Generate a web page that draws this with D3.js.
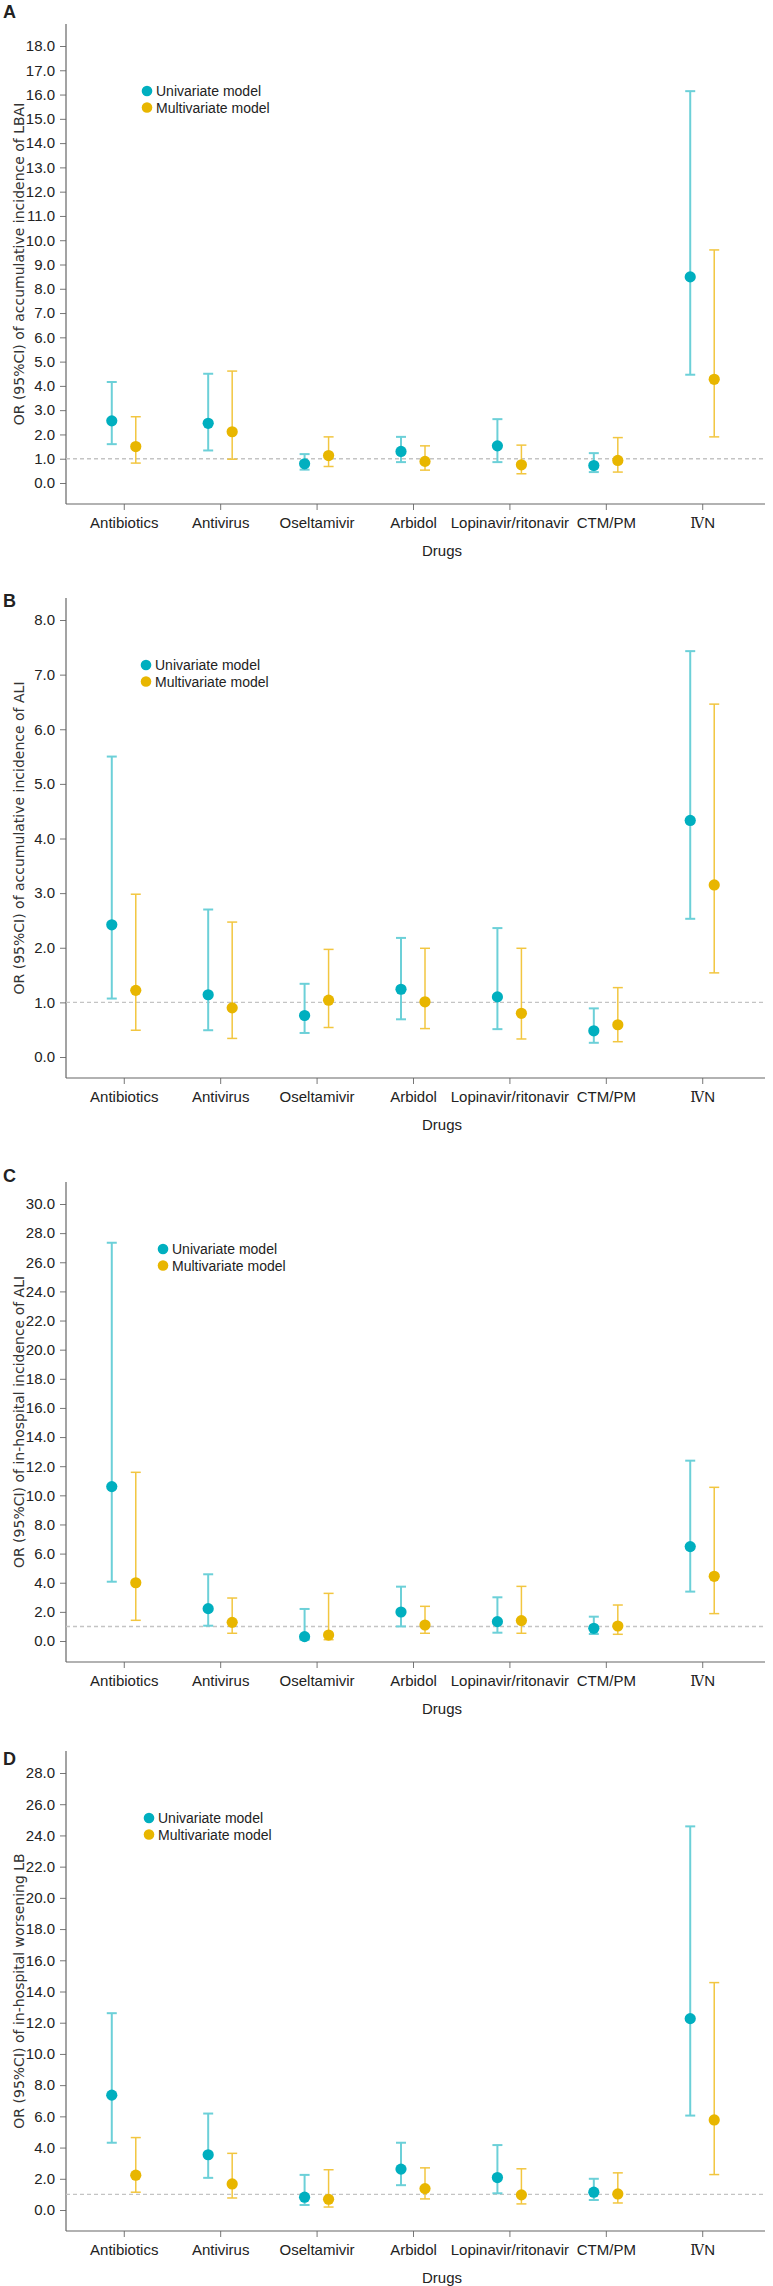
<!DOCTYPE html>
<html lang="en">
<head>
<meta charset="utf-8">
<script src="https://cdnjs.cloudflare.com/ajax/libs/d3/7.8.5/d3.min.js"></script>
<style>
  body { margin: 0; background: #fff; }
  svg text { font-family: "Liberation Sans", Arial, sans-serif; }
</style>
</head>
<body>
<script>

// categories
var drugs = ["Antibiotics", "Antivirus", "Oseltamivir", "Arbidol",
             "Lopinavir/ritonavir", "CTM/PM", "\u2163N"];

var panelLetters = ["A", "B", "C", "D"];
var yTitles = [
    "OR (95%CI) of accumulative incidence of LBAI",
    "OR (95%CI) of accumulative incidence of ALI",
    "OR (95%CI) of in-hospital incidence of ALI",
    "OR (95%CI) of in-hospital worsening LB"
];
var yMax  = [18, 8, 30, 28];
var yStep = [1, 1, 2, 2];

// [OR, lower 95%CI, upper 95%CI] per drug
var uniA   = [[2.56,1.60,4.16],[2.46,1.34,4.50],[0.79,0.55,1.19],[1.30,0.86,1.90],[1.53,0.86,2.63],[0.72,0.45,1.23],[8.49,4.46,16.14]];
var multiA = [[1.50,0.82,2.73],[2.11,0.98,4.61],[1.13,0.68,1.90],[0.89,0.53,1.53],[0.75,0.38,1.56],[0.93,0.45,1.87],[4.27,1.90,9.60]];

var uniB   = [[2.42,1.07,5.50],[1.14,0.49,2.70],[0.76,0.44,1.34],[1.24,0.69,2.18],[1.10,0.51,2.36],[0.48,0.26,0.89],[4.33,2.53,7.43]];
var multiB = [[1.22,0.49,2.98],[0.90,0.34,2.47],[1.04,0.54,1.97],[1.01,0.52,1.99],[0.80,0.33,1.99],[0.59,0.28,1.27],[3.15,1.54,6.46]];

var uniC   = [[10.6,4.07,27.34],[2.22,1.05,4.58],[0.30,0.09,2.20],[1.99,1.00,3.73],[1.33,0.57,3.00],[0.87,0.48,1.67],[6.48,3.39,12.38]];
var multiC = [[4.00,1.42,11.58],[1.28,0.53,2.95],[0.41,0.09,3.27],[1.10,0.53,2.38],[1.40,0.53,3.75],[1.03,0.46,2.47],[4.44,1.88,10.55]];

var uniD   = [[7.36,4.31,12.61],[3.54,2.06,6.18],[0.82,0.32,2.25],[2.62,1.59,4.31],[2.08,1.07,4.16],[1.14,0.64,2.00],[12.26,6.05,24.58]];
var multiD = [[2.23,1.14,4.64],[1.67,0.77,3.63],[0.69,0.19,2.58],[1.37,0.71,2.70],[0.97,0.39,2.64],[1.03,0.45,2.38],[5.77,2.27,14.57]];

var uniData   = [uniA, uniB, uniC, uniD];
var multiData = [multiA, multiB, multiC, multiD];

// layout
var width = 773, height = 2286;
var axisX = 66, rightX = 765;
var panelTop = [46, 620, 1204, 1773];   // y of highest tick per panel
var plotH = 437;
var letterY = [18, 607, 1182, 1765];
var legendX = [147, 146, 163, 149];

var uniDot = "#00afbf", uniBar = "#6cd0d8";
var multiDot = "#e8b600", multiBar = "#f2c640";

var svg = d3.select("body").append("svg")
    .attr("width", width)
    .attr("height", height);

var x = d3.scalePoint()
    .domain(drugs)
    .range([64, 762])
    .padding(0.62);

panelLetters.forEach(function(letter, p) {

    var top = panelTop[p];
    var y = d3.scaleLinear()
        .domain([0, yMax[p]])
        .range([top + plotH, top]);
    var yBottom = y(0) + 21;
    var g = svg.append("g");

    /*
    буква панели
     */
    g.append("text")
        .attr("x", 3)
        .attr("y", letterY[p])
        .style("font-size", "18px")
        .style("font-weight", "bold")
        .style("fill", "#222")
        .text(letter);

    /*
    ось Y
     */
    var yAxis = d3.axisLeft(y)
        .tickValues(d3.range(0, yMax[p] + 0.001, yStep[p]))
        .tickFormat(d3.format(".1f"))
        .tickSize(6)
        .tickPadding(5);
    var ya = g.append("g")
        .attr("transform", "translate(" + axisX + ",0)")
        .call(yAxis);
    ya.select(".domain").remove();
    ya.selectAll(".tick line").attr("stroke", "#777");
    ya.selectAll(".tick text")
        .style("font-size", "15px")
        .style("fill", "#222");

    g.append("line")
        .attr("x1", axisX).attr("x2", axisX)
        .attr("y1", top - 22).attr("y2", yBottom)
        .attr("stroke", "#666").attr("stroke-width", 1.2);

    /*
    ось X
     */
    var xAxis = d3.axisBottom(x).tickSize(6).tickPadding(7);
    var xa = g.append("g")
        .attr("transform", "translate(0," + yBottom + ")")
        .call(xAxis);
    xa.select(".domain").remove();
    xa.selectAll(".tick line").attr("stroke", "#777");
    xa.selectAll(".tick text")
        .style("font-size", "15px")
        .style("fill", "#222")
        .each(function(d) {
            // the roman numeral is drawn with serifs in the original
            if (d.charAt(0) === "\u2163") {
                var t = d3.select(this).text("");
                t.append("tspan")
                    .style("font-family", "'DejaVu Serif', 'Liberation Serif', serif")
                    .style("font-size", "14px")
                    .text("\u2163");
                t.append("tspan").text(d.slice(1));
            }
        });

    g.append("line")
        .attr("x1", axisX).attr("x2", rightX)
        .attr("y1", yBottom).attr("y2", yBottom)
        .attr("stroke", "#666").attr("stroke-width", 1.2);

    g.append("text")
        .attr("x", 442)
        .attr("y", yBottom + 52)
        .attr("text-anchor", "middle")
        .style("font-size", "15px")
        .style("fill", "#222")
        .text("Drugs");

    g.append("text")
        .attr("transform", "translate(24," + ((top - 22 + yBottom) / 2) + ") rotate(-90)")
        .attr("text-anchor", "middle")
        .style("font-family", "'DejaVu Sans', Verdana, sans-serif")
        .style("font-size", "14px")
        .style("fill", "#333")
        .text(yTitles[p]);

    /*
    линия OR = 1
     */
    g.append("line")
        .attr("x1", axisX).attr("x2", rightX)
        .attr("y1", y(1)).attr("y2", y(1))
        .attr("stroke", "#c4c4c4")
        .attr("stroke-width", 1.4)
        .attr("stroke-dasharray", "4,3");

    /*
    интервалы и точки
     */
    var series = [
        {data: uniData[p], dx: -12, bar: uniBar, dot: uniDot, w: 2},
        {data: multiData[p], dx: 12, bar: multiBar, dot: multiDot, w: 1.5}
    ];
    series.forEach(function(s) {
        var sg = g.append("g");
        var items = sg.selectAll("g.ci")
            .data(s.data)
            .enter()
            .append("g")
            .attr("class", "ci")
            .attr("transform", function(d, i) {
                return "translate(" + (x(drugs[i]) + s.dx) + ",0)";
            });
        items.append("line")
            .attr("y1", function(d) { return y(d[1]); })
            .attr("y2", function(d) { return y(d[2]); })
            .attr("stroke", s.bar)
            .attr("stroke-width", s.w);
        items.append("line")
            .attr("x1", -5).attr("x2", 5)
            .attr("y1", function(d) { return y(d[2]); })
            .attr("y2", function(d) { return y(d[2]); })
            .attr("stroke", s.bar)
            .attr("stroke-width", s.w);
        items.append("line")
            .attr("x1", -5).attr("x2", 5)
            .attr("y1", function(d) { return y(d[1]); })
            .attr("y2", function(d) { return y(d[1]); })
            .attr("stroke", s.bar)
            .attr("stroke-width", s.w);
        items.append("circle")
            .attr("cy", function(d) { return y(d[0]); })
            .attr("r", 5.6)
            .attr("fill", s.dot);
    });

    /*
    легенда
     */
    var legend = [["Univariate model", uniDot], ["Multivariate model", multiDot]];
    legend.forEach(function(l, i) {
        var ly = top + 45 + i * 16.5;
        g.append("circle")
            .attr("cx", legendX[p])
            .attr("cy", ly)
            .attr("r", 5.3)
            .attr("fill", l[1]);
        g.append("text")
            .attr("x", legendX[p] + 9)
            .attr("y", ly + 5)
            .style("font-size", "14px")
            .style("fill", "#222")
            .text(l[0]);
    });
});

</script>
</body>
</html>
